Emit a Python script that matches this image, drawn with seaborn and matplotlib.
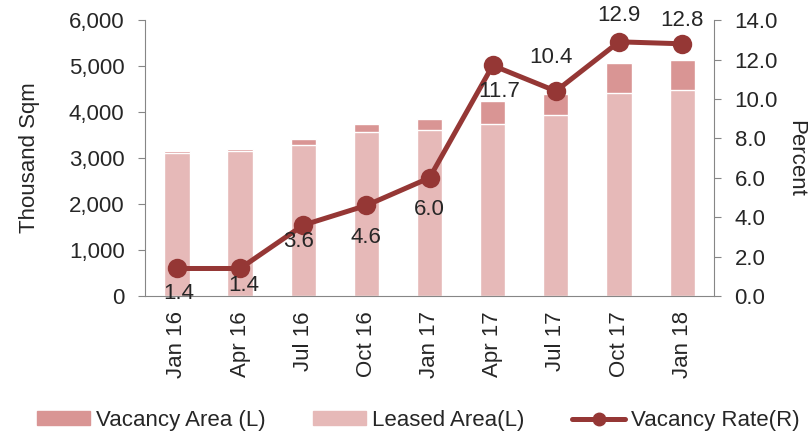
import numpy as np
import pandas as pd
import matplotlib
matplotlib.use('Agg')
from matplotlib import pyplot as plt
from matplotlib.patches import Patch
from matplotlib.lines import Line2D
import seaborn as sns

# data
quarters = ['Jan 16', 'Apr 16', 'Jul 16', 'Oct 16', 'Jan 17', 'Apr 17', 'Jul 17', 'Oct 17', 'Jan 18']
leased_area = [3106, 3150, 3287, 3568, 3619, 3748, 3942, 4420, 4482]
vacancy_area = [44, 45, 123, 172, 231, 497, 458, 655, 658]
vacancy_rate = [1.4, 1.4, 3.6, 4.6, 6.0, 11.7, 10.4, 12.9, 12.8]

df = pd.DataFrame({'quarter': quarters, 'leased': leased_area,
                   'vacancy': vacancy_area, 'rate': vacancy_rate})
df['total'] = df['leased'] + df['vacancy']
df['pos'] = np.arange(len(df))

c_vac = '#D99594'
c_lease = '#E6B9B8'
c_line = '#953735'
grey = '#868686'

sns.set_style('white')
plt.rcParams['font.family'] = ['Liberation Sans', 'DejaVu Sans']
fs = 16

fig = plt.figure(figsize=(8.12, 4.38), dpi=100)
ax = fig.add_axes([0.179, 0.324, 0.7, 0.63])

sns.barplot(data=df, x='pos', y='total', color=c_vac, width=0.4,
            saturation=1, ax=ax, native_scale=True)
sns.barplot(data=df, x='pos', y='leased', color=c_lease, width=0.4,
            saturation=1, ax=ax, native_scale=True)
ax.set_xlim(-0.5, len(df) - 0.5)
ax.set_ylim(0, 6000)
ax.set_yticks(range(0, 6001, 1000))
ax.set_yticklabels([f'{v:,}' for v in range(0, 6001, 1000)], fontsize=fs)
ax.set_xticks(df['pos'])
ax.set_xticklabels(quarters, rotation=90, fontsize=fs)
ax.set_xticks(np.arange(-0.5, len(df)), minor=True)
ax.tick_params(axis='x', which='major', length=0, pad=11)
ax.tick_params(axis='x', which='minor', length=5, color=grey, direction='out')
ax.tick_params(axis='y', length=5, color=grey, direction='out', left=True, pad=10)
ax.set_xlabel('')
ax.set_ylabel('Thousand Sqm', fontsize=fs, labelpad=21)

ax2 = ax.twinx()
sns.lineplot(data=df, x='pos', y='rate', color=c_line, linewidth=3.6,
             marker='o', markersize=14, markeredgewidth=0, ax=ax2)
ax2.set_ylim(0, 14)
ax2.set_yticks(np.arange(0, 14.1, 2))
ax2.set_yticklabels([f'{v:.1f}' for v in np.arange(0, 14.1, 2)], fontsize=fs)
ax2.tick_params(axis='y', length=5, color=grey, direction='out', right=True, pad=10)
ax2.set_ylabel('Percent', fontsize=fs, rotation=270, labelpad=20)
ax2.set_xlabel('')

# label offsets in points (dx, dy), matching the Excel placement
offsets = [(1, -18), (3, -12), (-3.6, -12), (0, -23), (0, -23), (5, -19), (-3.6, 24), (0, 19), (0, 17)]
for (x, r), (dx, dy) in zip(zip(df['pos'], df['rate']), offsets):
    ax2.annotate(f'{r:.1f}', (x, r), xytext=(dx, dy), textcoords='offset points',
                 ha='center', va='center', fontsize=fs)

for a in (ax, ax2):
    a.spines['top'].set_visible(False)
    for s in ('left', 'right', 'bottom'):
        a.spines[s].set_color(grey)
ax.spines['right'].set_visible(False)
ax2.spines['left'].set_visible(False)
ax2.spines['bottom'].set_visible(False)

handles = [Patch(color=c_vac), Patch(color=c_lease),
           Line2D([], [], color=c_line, linewidth=3.6, marker='o', markersize=9)]
fig.legend(handles, ['Vacancy Area (L)', 'Leased Area(L)', 'Vacancy Rate(R)'],
           loc='center', bbox_to_anchor=(0.515, 0.04), ncol=3, frameon=False,
           fontsize=fs, handlelength=2.4, handleheight=0.55, columnspacing=2.15,
           handletextpad=0.25)

fig.savefig('out.png', dpi=100)
